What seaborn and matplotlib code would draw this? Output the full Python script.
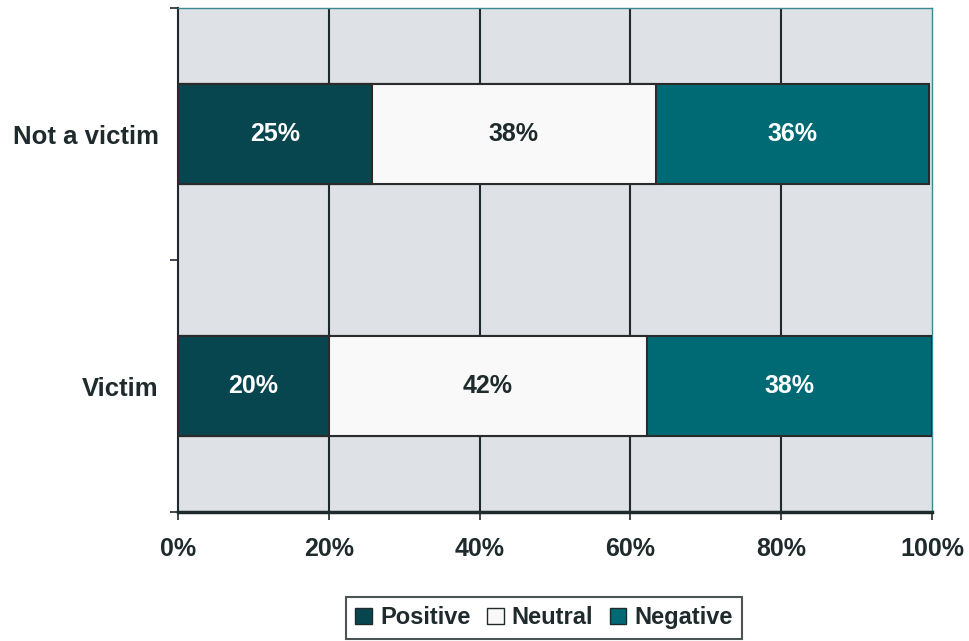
import numpy as np
import pandas as pd
import seaborn as sns
import matplotlib.pyplot as plt
from matplotlib.patches import Patch

groups = ["Not a victim", "Victim"]
segments = ["Positive", "Neutral", "Negative"]
positive = [25.7, 20.0]
neutral = [37.7, 42.2]
negative = [36.2, 37.8]
positive_labels = ["25%", "20%"]
neutral_labels = ["38%", "42%"]
negative_labels = ["36%", "38%"]
x_ticks = [0, 20, 40, 60, 80, 100]
x_ticklabels = ["0%", "20%", "40%", "60%", "80%", "100%"]

colors = {"Positive": "#08464f", "Neutral": "#f9f9f9", "Negative": "#006a74"}

df = pd.DataFrame({"group": groups, "Positive": positive,
                   "Neutral": neutral, "Negative": negative})
df["cum_pos"] = df["Positive"]
df["cum_neu"] = df["Positive"] + df["Neutral"]
df["cum_neg"] = df["cum_neu"] + df["Negative"]

sns.set_theme(style="white")
plt.rcParams['font.family'] = ['Liberation Sans', 'DejaVu Sans']
plt.rcParams['font.weight'] = 'bold'

fig = plt.figure(figsize=(9.7, 6.41), dpi=100)
ax = fig.add_axes([0.1835, 0.2012, 0.7775, 0.7863])
ax.set_facecolor("#dee1e5")

# stacked bars drawn as cumulative totals, widest first
for col, seg in [("cum_neg", "Negative"), ("cum_neu", "Neutral"), ("cum_pos", "Positive")]:
    sns.barplot(data=df, y="group", x=col, order=groups, orient="h", width=0.4,
                color=colors[seg], saturation=1, edgecolor="#2b2b2b", linewidth=1.5,
                ax=ax, zorder=3)

# segment labels
for i in range(len(groups)):
    starts = [0, df["cum_pos"][i], df["cum_neu"][i]]
    widths = [positive[i], neutral[i], negative[i]]
    labels = [positive_labels[i], neutral_labels[i], negative_labels[i]]
    tcolors = ["white", "#1e2a2c", "white"]
    for s, w, lab, tc in zip(starts, widths, labels, tcolors):
        ax.text(s + w / 2, i, lab, ha="center", va="center", color=tc,
                fontsize=18, fontweight="bold", zorder=5)

ax.set_xlim(0, 100)
ax.set_ylim(1.5, -0.5)
ax.set_xticks(x_ticks)
ax.set_xticklabels(x_ticklabels, fontsize=18, fontweight="bold", color="#1e2a2c")
ax.set_yticks([0, 1])
ax.set_yticklabels(groups, fontsize=18.5, fontweight="bold", color="#1e2a2c")
ax.set_yticks([-0.5, 0.5, 1.5], minor=True)
ax.tick_params(axis="y", which="major", length=0, pad=14)
ax.tick_params(axis="y", which="minor", length=6, width=1.2, color="#1e2a2c", left=True)
ax.tick_params(axis="x", length=6, width=1.2, color="#1e2a2c", bottom=True, pad=12)
ax.set_xlabel("")
ax.set_ylabel("")

for xv in x_ticks[1:-1]:
    ax.axvline(xv, color="#1e2a2c", lw=1.5, zorder=1)

ax.spines["left"].set_color("#1e2a2c")
ax.spines["left"].set_linewidth(1.5)
ax.spines["bottom"].set_color("#1e2a2c")
ax.spines["bottom"].set_linewidth(2.5)
for s in ["top", "right"]:
    ax.spines[s].set_color("#3a8a90")
    ax.spines[s].set_linewidth(1)
    ax.spines[s].set_visible(True)

handles = [Patch(facecolor=colors[s], edgecolor="#1e2a2c", linewidth=1, label=s) for s in segments]
leg = fig.legend(handles=handles, loc="upper center", bbox_to_anchor=(0.561, 0.087),
                 ncol=3, frameon=True, fancybox=False, edgecolor="#1e2a2c",
                 handlelength=0.7, handleheight=0.7, handletextpad=0.35, columnspacing=0.7,
                 borderpad=0.4, prop={"size": 17, "weight": "bold"})
leg.get_frame().set_linewidth(1.5)
for t in leg.get_texts():
    t.set_color("#1e2a2c")

fig.savefig("out.png", dpi=100, facecolor="white")
